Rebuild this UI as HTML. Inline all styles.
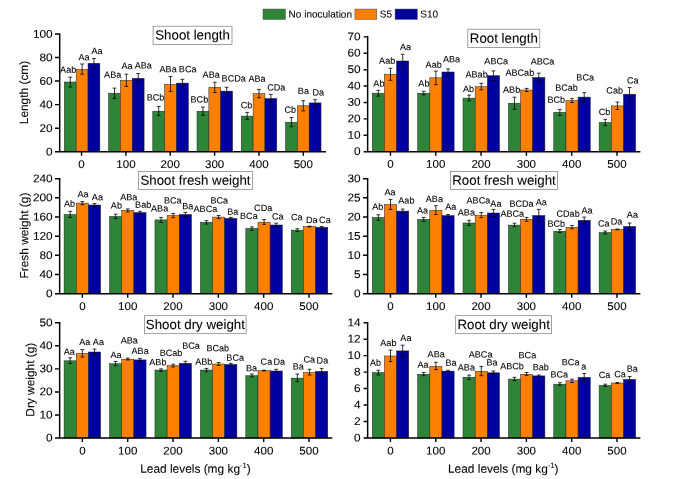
<!DOCTYPE html>
<html lang="en"><head><meta charset="utf-8"><title>Lead levels chart</title>
<style>html,body{margin:0;padding:0;background:#fff}svg{display:block}text{font-family:"Liberation Sans", Arial, sans-serif;fill:#000;stroke:#000;stroke-width:0.08px}.l{font-size:9.1px;text-anchor:middle}.t{font-size:11.2px}.tt{font-size:13.3px}.a{font-size:11.9px}.lg{font-size:10px}</style></head><body>
<svg width="685" height="479" viewBox="0 0 685 479">
<rect width="685" height="479" fill="#fff"/>
<rect x="263" y="9.05" width="22.4" height="10.35" fill="#2e8538" stroke="#444" stroke-width="0.5"/>
<text class="lg" transform="translate(288.6 17.6) rotate(0.03)">No inoculation</text>
<rect x="354.9" y="9.05" width="21.9" height="10.35" fill="#ff8000" stroke="#444" stroke-width="0.5"/>
<text class="lg" transform="translate(379.8 17.6) rotate(0.03)">S5</text>
<rect x="395.1" y="9.05" width="22.2" height="10.35" fill="#0000a0" stroke="#444" stroke-width="0.5"/>
<text class="lg" transform="translate(420.3 17.6) rotate(0.03)">S10</text>
<g>
<rect x="64.32" y="82" width="11.85" height="69.7" fill="#2e8538" stroke="#222" stroke-width="0.5"/>
<rect x="76.17" y="69.4" width="11.85" height="82.3" fill="#ff8000" stroke="#222" stroke-width="0.5"/>
<rect x="88.02" y="63.3" width="11.85" height="88.4" fill="#0000a0" stroke="#222" stroke-width="0.5"/>
<rect x="108.55" y="93.2" width="11.85" height="58.5" fill="#2e8538" stroke="#222" stroke-width="0.5"/>
<rect x="120.4" y="80.4" width="11.85" height="71.3" fill="#ff8000" stroke="#222" stroke-width="0.5"/>
<rect x="132.25" y="78.3" width="11.85" height="73.4" fill="#0000a0" stroke="#222" stroke-width="0.5"/>
<rect x="152.78" y="111.2" width="11.85" height="40.5" fill="#2e8538" stroke="#222" stroke-width="0.5"/>
<rect x="164.63" y="84.4" width="11.85" height="67.3" fill="#ff8000" stroke="#222" stroke-width="0.5"/>
<rect x="176.49" y="83.1" width="11.85" height="68.6" fill="#0000a0" stroke="#222" stroke-width="0.5"/>
<rect x="197.01" y="111.2" width="11.85" height="40.5" fill="#2e8538" stroke="#222" stroke-width="0.5"/>
<rect x="208.86" y="87.3" width="11.85" height="64.4" fill="#ff8000" stroke="#222" stroke-width="0.5"/>
<rect x="220.72" y="91.1" width="11.85" height="60.6" fill="#0000a0" stroke="#222" stroke-width="0.5"/>
<rect x="241.24" y="116.1" width="11.85" height="35.6" fill="#2e8538" stroke="#222" stroke-width="0.5"/>
<rect x="253.09" y="93.7" width="11.85" height="58" fill="#ff8000" stroke="#222" stroke-width="0.5"/>
<rect x="264.94" y="98.5" width="11.85" height="53.2" fill="#0000a0" stroke="#222" stroke-width="0.5"/>
<rect x="285.48" y="122.2" width="11.85" height="29.5" fill="#2e8538" stroke="#222" stroke-width="0.5"/>
<rect x="297.32" y="105.8" width="11.85" height="45.9" fill="#ff8000" stroke="#222" stroke-width="0.5"/>
<rect x="309.18" y="102.9" width="11.85" height="48.8" fill="#0000a0" stroke="#222" stroke-width="0.5"/>
<path d="M70.25 77.2V87M68.35 77.2H72.15M68.35 87H72.15M82.1 64V74.2M80.2 64H84M80.2 74.2H84M93.95 58.5V68.1M92.05 58.5H95.85M92.05 68.1H95.85M114.48 88.1V98.4M112.58 88.1H116.38M112.58 98.4H116.38M126.33 74.2V86.4M124.43 74.2H128.23M124.43 86.4H128.23M138.18 73.5V82.6M136.28 73.5H140.08M136.28 82.6H140.08M158.71 106.5V115.6M156.81 106.5H160.61M156.81 115.6H160.61M170.56 76.4V91.4M168.66 76.4H172.46M168.66 91.4H172.46M182.41 79.3V86.8M180.51 79.3H184.31M180.51 86.8H184.31M202.94 107.2V115.3M201.04 107.2H204.84M201.04 115.3H204.84M214.79 82.2V92.5M212.89 82.2H216.69M212.89 92.5H216.69M226.64 87.3V95.1M224.74 87.3H228.54M224.74 95.1H228.54M247.17 112.4V119.3M245.27 112.4H249.07M245.27 119.3H249.07M259.02 89.4V97.8M257.12 89.4H260.92M257.12 97.8H260.92M270.87 94.4V102.2M268.97 94.4H272.77M268.97 102.2H272.77M291.4 117.5V126.7M289.5 117.5H293.3M289.5 126.7H293.3M303.25 100.7V110.9M301.35 100.7H305.15M301.35 110.9H305.15M315.1 99.7V106.1M313.2 99.7H317M313.2 106.1H317" stroke="#050505" stroke-width="0.8" fill="none"/>
<path d="M59.7 33.27V151.7H326M59.7 151.7H55M59.7 128.16H55M59.7 104.62H55M59.7 81.08H55M59.7 57.54H55M59.7 34H55M81.56 151.7V155.7M125.91 151.7V155.7M170.26 151.7V155.7M214.61 151.7V155.7M258.96 151.7V155.7M303.31 151.7V155.7" stroke="#000" stroke-width="1.45" fill="none" stroke-linejoin="miter"/>
<text class="t" text-anchor="end" transform="translate(52.7 155.45) rotate(0.03) scale(1.06 1)">0</text>
<text class="t" text-anchor="end" transform="translate(52.7 131.91) rotate(0.03) scale(1.06 1)">20</text>
<text class="t" text-anchor="end" transform="translate(52.7 108.37) rotate(0.03) scale(1.06 1)">40</text>
<text class="t" text-anchor="end" transform="translate(52.7 84.83) rotate(0.03) scale(1.06 1)">60</text>
<text class="t" text-anchor="end" transform="translate(52.7 61.29) rotate(0.03) scale(1.06 1)">80</text>
<text class="t" text-anchor="end" transform="translate(52.7 37.75) rotate(0.03) scale(1.06 1)">100</text>
<text class="t" text-anchor="middle" transform="translate(81.56 168) rotate(0.03) scale(1.035 1)">0</text>
<text class="t" text-anchor="middle" transform="translate(125.91 168) rotate(0.03) scale(1.035 1)">100</text>
<text class="t" text-anchor="middle" transform="translate(170.26 168) rotate(0.03) scale(1.035 1)">200</text>
<text class="t" text-anchor="middle" transform="translate(214.61 168) rotate(0.03) scale(1.035 1)">300</text>
<text class="t" text-anchor="middle" transform="translate(258.96 168) rotate(0.03) scale(1.035 1)">400</text>
<text class="t" text-anchor="middle" transform="translate(303.31 168) rotate(0.03) scale(1.035 1)">500</text>
<rect x="153.1" y="26.2" width="78.9" height="18.4" fill="#fff" stroke="#7a7a7a" stroke-width="0.7"/>
<text class="tt" text-anchor="middle" transform="translate(192.55 39.5) rotate(0.03)">Shoot length</text>
<text class="l" transform="translate(68.2 72.8) rotate(0.03)">Aab</text>
<text class="l" transform="translate(84 60.3) rotate(0.03)">Aa</text>
<text class="l" transform="translate(97 54.1) rotate(0.03)">Aa</text>
<text class="l" transform="translate(112.7 77.8) rotate(0.03)">ABa</text>
<text class="l" transform="translate(127 69) rotate(0.03)">Aa</text>
<text class="l" transform="translate(143.3 68.4) rotate(0.03)">ABa</text>
<text class="l" transform="translate(155.5 100.5) rotate(0.03)">BCb</text>
<text class="l" transform="translate(168.1 72.3) rotate(0.03)">ABa</text>
<text class="l" transform="translate(187.7 72.3) rotate(0.03)">BCa</text>
<text class="l" transform="translate(199.4 102.4) rotate(0.03)">BCb</text>
<text class="l" transform="translate(211.2 77.8) rotate(0.03)">ABa</text>
<text class="l" transform="translate(233.7 81.5) rotate(0.03)">BCDa</text>
<text class="l" transform="translate(246.5 108.3) rotate(0.03)">Cb</text>
<text class="l" transform="translate(257 81.7) rotate(0.03)">ABa</text>
<text class="l" transform="translate(276.3 90.5) rotate(0.03)">CDa</text>
<text class="l" transform="translate(290.2 112.7) rotate(0.03)">Cb</text>
<text class="l" transform="translate(303.4 94) rotate(0.03)">Ba</text>
<text class="l" transform="translate(318.2 95.4) rotate(0.03)">Da</text>
<text class="a" text-anchor="middle" transform="translate(27.95 92.5) rotate(-89.97)">Length (cm)</text>
</g>
<g>
<rect x="372.25" y="93.2" width="12.17" height="58.5" fill="#2e8538" stroke="#222" stroke-width="0.5"/>
<rect x="384.42" y="74.2" width="12.17" height="77.5" fill="#ff8000" stroke="#222" stroke-width="0.5"/>
<rect x="396.58" y="61" width="12.17" height="90.7" fill="#0000a0" stroke="#222" stroke-width="0.5"/>
<rect x="417.62" y="93.2" width="12.17" height="58.5" fill="#2e8538" stroke="#222" stroke-width="0.5"/>
<rect x="429.8" y="77.8" width="12.17" height="73.9" fill="#ff8000" stroke="#222" stroke-width="0.5"/>
<rect x="441.96" y="72" width="12.17" height="79.7" fill="#0000a0" stroke="#222" stroke-width="0.5"/>
<rect x="463" y="98.1" width="12.17" height="53.6" fill="#2e8538" stroke="#222" stroke-width="0.5"/>
<rect x="475.18" y="86.7" width="12.17" height="65" fill="#ff8000" stroke="#222" stroke-width="0.5"/>
<rect x="487.34" y="75.7" width="12.17" height="76" fill="#0000a0" stroke="#222" stroke-width="0.5"/>
<rect x="508.38" y="103.2" width="12.17" height="48.5" fill="#2e8538" stroke="#222" stroke-width="0.5"/>
<rect x="520.55" y="90" width="12.17" height="61.7" fill="#ff8000" stroke="#222" stroke-width="0.5"/>
<rect x="532.73" y="77.5" width="12.17" height="74.2" fill="#0000a0" stroke="#222" stroke-width="0.5"/>
<rect x="553.76" y="112.3" width="12.17" height="39.4" fill="#2e8538" stroke="#222" stroke-width="0.5"/>
<rect x="565.93" y="100.6" width="12.17" height="51.1" fill="#ff8000" stroke="#222" stroke-width="0.5"/>
<rect x="578.11" y="97.1" width="12.17" height="54.6" fill="#0000a0" stroke="#222" stroke-width="0.5"/>
<rect x="599.14" y="122.5" width="12.17" height="29.2" fill="#2e8538" stroke="#222" stroke-width="0.5"/>
<rect x="611.31" y="105.9" width="12.17" height="45.8" fill="#ff8000" stroke="#222" stroke-width="0.5"/>
<rect x="623.49" y="94.2" width="12.17" height="57.5" fill="#0000a0" stroke="#222" stroke-width="0.5"/>
<path d="M378.33 90.3V96.1M376.43 90.3H380.23M376.43 96.1H380.23M390.5 68.3V80.3M388.6 68.3H392.4M388.6 80.3H392.4M402.67 54.3V67.5M400.77 54.3H404.57M400.77 67.5H404.57M423.71 91.3V94.9M421.81 91.3H425.61M421.81 94.9H425.61M435.88 71.1V84.7M433.98 71.1H437.78M433.98 84.7H437.78M448.05 68.9V75.5M446.15 68.9H449.95M446.15 75.5H449.95M469.09 95.1V100.8M467.19 95.1H470.99M467.19 100.8H470.99M481.26 83.3V89.9M479.36 83.3H483.16M479.36 89.9H483.16M493.43 70.9V80.4M491.53 70.9H495.33M491.53 80.4H495.33M514.47 97.2V109.3M512.57 97.2H516.37M512.57 109.3H516.37M526.64 88.4V91.5M524.74 88.4H528.54M524.74 91.5H528.54M538.81 73.2V81.5M536.91 73.2H540.71M536.91 81.5H540.71M559.85 109.4V115.4M557.95 109.4H561.75M557.95 115.4H561.75M572.02 98.6V102.5M570.12 98.6H573.92M570.12 102.5H573.92M584.19 92.6V101.8M582.29 92.6H586.09M582.29 101.8H586.09M605.23 119.3V125.7M603.33 119.3H607.13M603.33 125.7H607.13M617.4 102.1V109.5M615.5 102.1H619.3M615.5 109.5H619.3M629.57 87.5V101.5M627.67 87.5H631.47M627.67 101.5H631.47" stroke="#050505" stroke-width="0.8" fill="none"/>
<path d="M367.65 36.12V151.7H640.35M367.65 151.7H363.6M367.65 135.29H363.6M367.65 118.89H363.6M367.65 102.48H363.6M367.65 86.07H363.6M367.65 69.66H363.6M367.65 53.26H363.6M367.65 36.85H363.6M390.45 151.7V155.7M435.76 151.7V155.7M481.07 151.7V155.7M526.38 151.7V155.7M571.69 151.7V155.7M617 151.7V155.7" stroke="#000" stroke-width="1.45" fill="none" stroke-linejoin="miter"/>
<text class="t" text-anchor="end" transform="translate(360.6 155.05) rotate(0.03) scale(1.06 1)">0</text>
<text class="t" text-anchor="end" transform="translate(360.6 138.64) rotate(0.03) scale(1.06 1)">10</text>
<text class="t" text-anchor="end" transform="translate(360.6 122.24) rotate(0.03) scale(1.06 1)">20</text>
<text class="t" text-anchor="end" transform="translate(360.6 105.83) rotate(0.03) scale(1.06 1)">30</text>
<text class="t" text-anchor="end" transform="translate(360.6 89.42) rotate(0.03) scale(1.06 1)">40</text>
<text class="t" text-anchor="end" transform="translate(360.6 73.01) rotate(0.03) scale(1.06 1)">50</text>
<text class="t" text-anchor="end" transform="translate(360.6 56.61) rotate(0.03) scale(1.06 1)">60</text>
<text class="t" text-anchor="end" transform="translate(360.6 40.2) rotate(0.03) scale(1.06 1)">70</text>
<text class="t" text-anchor="middle" transform="translate(390.45 167.7) rotate(0.03) scale(1.035 1)">0</text>
<text class="t" text-anchor="middle" transform="translate(435.76 167.7) rotate(0.03) scale(1.035 1)">100</text>
<text class="t" text-anchor="middle" transform="translate(481.07 167.7) rotate(0.03) scale(1.035 1)">200</text>
<text class="t" text-anchor="middle" transform="translate(526.38 167.7) rotate(0.03) scale(1.035 1)">300</text>
<text class="t" text-anchor="middle" transform="translate(571.69 167.7) rotate(0.03) scale(1.035 1)">400</text>
<text class="t" text-anchor="middle" transform="translate(617 167.7) rotate(0.03) scale(1.035 1)">500</text>
<rect x="467.8" y="29.2" width="72" height="18.2" fill="#fff" stroke="#7a7a7a" stroke-width="0.7"/>
<text class="tt" text-anchor="middle" transform="translate(503.8 42.7) rotate(0.03)">Root length</text>
<text class="l" transform="translate(378.9 86.5) rotate(0.03)">Ab</text>
<text class="l" transform="translate(387.2 63.8) rotate(0.03)">Aab</text>
<text class="l" transform="translate(405.6 49.9) rotate(0.03)">Aa</text>
<text class="l" transform="translate(423.9 86.5) rotate(0.03)">Ab</text>
<text class="l" transform="translate(433.7 67.8) rotate(0.03)">Aab</text>
<text class="l" transform="translate(451.5 62.3) rotate(0.03)">ABa</text>
<text class="l" transform="translate(468.5 92.1) rotate(0.03)">Ab</text>
<text class="l" transform="translate(476.6 77.5) rotate(0.03)">ABab</text>
<text class="l" transform="translate(496.2 64.3) rotate(0.03)">ABCa</text>
<text class="l" transform="translate(511.6 92.8) rotate(0.03)">ABb</text>
<text class="l" transform="translate(519.8 75.7) rotate(0.03)">ABCab</text>
<text class="l" transform="translate(542.5 64.4) rotate(0.03)">ABCa</text>
<text class="l" transform="translate(556.3 102.8) rotate(0.03)">BCb</text>
<text class="l" transform="translate(566.5 90.8) rotate(0.03)">BCab</text>
<text class="l" transform="translate(585.2 80.6) rotate(0.03)">BCa</text>
<text class="l" transform="translate(604.5 114.9) rotate(0.03)">Cb</text>
<text class="l" transform="translate(614.7 93.6) rotate(0.03)">Cab</text>
<text class="l" transform="translate(632.7 83.4) rotate(0.03)">Ca</text>
</g>
<g>
<rect x="64.09" y="214.5" width="12.17" height="79.18" fill="#2e8538" stroke="#222" stroke-width="0.5"/>
<rect x="76.27" y="203.1" width="12.17" height="90.58" fill="#ff8000" stroke="#222" stroke-width="0.5"/>
<rect x="88.43" y="205" width="12.17" height="88.68" fill="#0000a0" stroke="#222" stroke-width="0.5"/>
<rect x="109.53" y="216.4" width="12.17" height="77.28" fill="#2e8538" stroke="#222" stroke-width="0.5"/>
<rect x="121.7" y="210.4" width="12.17" height="83.28" fill="#ff8000" stroke="#222" stroke-width="0.5"/>
<rect x="133.87" y="212.6" width="12.17" height="81.08" fill="#0000a0" stroke="#222" stroke-width="0.5"/>
<rect x="154.95" y="219.9" width="12.17" height="73.78" fill="#2e8538" stroke="#222" stroke-width="0.5"/>
<rect x="167.12" y="215.5" width="12.17" height="78.18" fill="#ff8000" stroke="#222" stroke-width="0.5"/>
<rect x="179.29" y="214.5" width="12.17" height="79.18" fill="#0000a0" stroke="#222" stroke-width="0.5"/>
<rect x="200.38" y="222.2" width="12.17" height="71.48" fill="#2e8538" stroke="#222" stroke-width="0.5"/>
<rect x="212.55" y="217.1" width="12.17" height="76.58" fill="#ff8000" stroke="#222" stroke-width="0.5"/>
<rect x="224.72" y="218.4" width="12.17" height="75.28" fill="#0000a0" stroke="#222" stroke-width="0.5"/>
<rect x="245.81" y="228.4" width="12.17" height="65.28" fill="#2e8538" stroke="#222" stroke-width="0.5"/>
<rect x="257.99" y="222.2" width="12.17" height="71.48" fill="#ff8000" stroke="#222" stroke-width="0.5"/>
<rect x="270.15" y="225" width="12.17" height="68.68" fill="#0000a0" stroke="#222" stroke-width="0.5"/>
<rect x="291.25" y="230.1" width="12.17" height="63.58" fill="#2e8538" stroke="#222" stroke-width="0.5"/>
<rect x="303.42" y="226.5" width="12.17" height="67.18" fill="#ff8000" stroke="#222" stroke-width="0.5"/>
<rect x="315.58" y="227.3" width="12.17" height="66.38" fill="#0000a0" stroke="#222" stroke-width="0.5"/>
<path d="M70.18 211.3V217.4M68.28 211.3H72.08M68.28 217.4H72.08M82.35 201.6V204.7M80.45 201.6H84.25M80.45 204.7H84.25M94.52 203.5V206.7M92.62 203.5H96.42M92.62 206.7H96.42M115.61 214.2V218.4M113.71 214.2H117.51M113.71 218.4H117.51M127.78 208.9V212M125.88 208.9H129.68M125.88 212H129.68M139.95 211.3V213.7M138.05 211.3H141.85M138.05 213.7H141.85M161.04 217.4V222.5M159.14 217.4H162.94M159.14 222.5H162.94M173.21 213.5V217.7M171.31 213.5H175.11M171.31 217.7H175.11M185.38 212.3V216.7M183.48 212.3H187.28M183.48 216.7H187.28M206.47 220.6V224M204.57 220.6H208.37M204.57 224H208.37M218.64 215.5V218.6M216.74 215.5H220.54M216.74 218.6H220.54M230.81 217.4V219.2M228.91 217.4H232.71M228.91 219.2H232.71M251.9 226.9V230.3M250 226.9H253.8M250 230.3H253.8M264.07 219.6V224.4M262.17 219.6H265.97M262.17 224.4H265.97M276.24 223.2V226.5M274.34 223.2H278.14M274.34 226.5H278.14M297.33 228.7V231.6M295.43 228.7H299.23M295.43 231.6H299.23M309.5 226.2V227M307.6 226.2H311.4M307.6 227H311.4M321.67 226.5V228.7M319.77 226.5H323.57M319.77 228.7H323.57" stroke="#050505" stroke-width="0.8" fill="none"/>
<path d="M59.65 177.93V293.68H332.3M59.65 293.68H55M59.65 274.51H55M59.65 255.34H55M59.65 236.16H55M59.65 216.99H55M59.65 197.82H55M59.65 178.65H55M82.35 293.68V297.68M127.68 293.68V297.68M173.01 293.68V297.68M218.34 293.68V297.68M263.67 293.68V297.68M309 293.68V297.68" stroke="#000" stroke-width="1.45" fill="none" stroke-linejoin="miter"/>
<text class="t" text-anchor="end" transform="translate(52.7 297.23) rotate(0.03) scale(1.06 1)">0</text>
<text class="t" text-anchor="end" transform="translate(52.7 278.06) rotate(0.03) scale(1.06 1)">40</text>
<text class="t" text-anchor="end" transform="translate(52.7 258.89) rotate(0.03) scale(1.06 1)">80</text>
<text class="t" text-anchor="end" transform="translate(52.7 239.71) rotate(0.03) scale(1.06 1)">120</text>
<text class="t" text-anchor="end" transform="translate(52.7 220.54) rotate(0.03) scale(1.06 1)">160</text>
<text class="t" text-anchor="end" transform="translate(52.7 201.37) rotate(0.03) scale(1.06 1)">200</text>
<text class="t" text-anchor="end" transform="translate(52.7 182.2) rotate(0.03) scale(1.06 1)">240</text>
<text class="t" text-anchor="middle" transform="translate(82.35 310.08) rotate(0.03) scale(1.035 1)">0</text>
<text class="t" text-anchor="middle" transform="translate(127.68 310.08) rotate(0.03) scale(1.035 1)">100</text>
<text class="t" text-anchor="middle" transform="translate(173.01 310.08) rotate(0.03) scale(1.035 1)">200</text>
<text class="t" text-anchor="middle" transform="translate(218.34 310.08) rotate(0.03) scale(1.035 1)">300</text>
<text class="t" text-anchor="middle" transform="translate(263.67 310.08) rotate(0.03) scale(1.035 1)">400</text>
<text class="t" text-anchor="middle" transform="translate(309 310.08) rotate(0.03) scale(1.035 1)">500</text>
<rect x="138.5" y="171.4" width="113.9" height="18" fill="#fff" stroke="#7a7a7a" stroke-width="0.7"/>
<text class="tt" text-anchor="middle" transform="translate(195.45 184.7) rotate(0.03)">Shoot fresh weight</text>
<text class="l" transform="translate(69.6 206.7) rotate(0.03)">Ab</text>
<text class="l" transform="translate(83.1 197.2) rotate(0.03)">Aa</text>
<text class="l" transform="translate(97.4 200.2) rotate(0.03)">Aa</text>
<text class="l" transform="translate(116.4 208.6) rotate(0.03)">Ab</text>
<text class="l" transform="translate(128.8 200.2) rotate(0.03)">ABa</text>
<text class="l" transform="translate(143.2 207.8) rotate(0.03)">Bab</text>
<text class="l" transform="translate(159.6 211.4) rotate(0.03)">ABa</text>
<text class="l" transform="translate(172.8 203.5) rotate(0.03)">BCa</text>
<text class="l" transform="translate(187.7 209.2) rotate(0.03)">Ba</text>
<text class="l" transform="translate(205.4 212.1) rotate(0.03)">ABCa</text>
<text class="l" transform="translate(219.3 203.5) rotate(0.03)">BCa</text>
<text class="l" transform="translate(232.7 214.8) rotate(0.03)">Ba</text>
<text class="l" transform="translate(248.9 218.9) rotate(0.03)">BCa</text>
<text class="l" transform="translate(263.2 211.1) rotate(0.03)">CDa</text>
<text class="l" transform="translate(277.7 219.6) rotate(0.03)">Ca</text>
<text class="l" transform="translate(296.8 220.3) rotate(0.03)">Ca</text>
<text class="l" transform="translate(311.8 223.1) rotate(0.03)">Da</text>
<text class="l" transform="translate(324.9 223.1) rotate(0.03)">Ca</text>
<text class="a" text-anchor="middle" transform="translate(28.2 235.6) rotate(-89.97)">Fresh weight (g)</text>
</g>
<g>
<rect x="372.25" y="217.4" width="12.17" height="76.28" fill="#2e8538" stroke="#222" stroke-width="0.5"/>
<rect x="384.42" y="204.5" width="12.17" height="89.18" fill="#ff8000" stroke="#222" stroke-width="0.5"/>
<rect x="396.58" y="211.1" width="12.17" height="82.58" fill="#0000a0" stroke="#222" stroke-width="0.5"/>
<rect x="417.62" y="219.3" width="12.17" height="74.38" fill="#2e8538" stroke="#222" stroke-width="0.5"/>
<rect x="429.8" y="210.4" width="12.17" height="83.28" fill="#ff8000" stroke="#222" stroke-width="0.5"/>
<rect x="441.96" y="215.6" width="12.17" height="78.08" fill="#0000a0" stroke="#222" stroke-width="0.5"/>
<rect x="463" y="223" width="12.17" height="70.68" fill="#2e8538" stroke="#222" stroke-width="0.5"/>
<rect x="475.18" y="215.5" width="12.17" height="78.18" fill="#ff8000" stroke="#222" stroke-width="0.5"/>
<rect x="487.34" y="213" width="12.17" height="80.68" fill="#0000a0" stroke="#222" stroke-width="0.5"/>
<rect x="508.38" y="225.1" width="12.17" height="68.58" fill="#2e8538" stroke="#222" stroke-width="0.5"/>
<rect x="520.55" y="219.3" width="12.17" height="74.38" fill="#ff8000" stroke="#222" stroke-width="0.5"/>
<rect x="532.73" y="215.5" width="12.17" height="78.18" fill="#0000a0" stroke="#222" stroke-width="0.5"/>
<rect x="553.76" y="231.3" width="12.17" height="62.38" fill="#2e8538" stroke="#222" stroke-width="0.5"/>
<rect x="565.93" y="227.3" width="12.17" height="66.38" fill="#ff8000" stroke="#222" stroke-width="0.5"/>
<rect x="578.11" y="220.3" width="12.17" height="73.38" fill="#0000a0" stroke="#222" stroke-width="0.5"/>
<rect x="599.14" y="232.5" width="12.17" height="61.18" fill="#2e8538" stroke="#222" stroke-width="0.5"/>
<rect x="611.31" y="229.4" width="12.17" height="64.28" fill="#ff8000" stroke="#222" stroke-width="0.5"/>
<rect x="623.49" y="226.5" width="12.17" height="67.18" fill="#0000a0" stroke="#222" stroke-width="0.5"/>
<path d="M378.33 214.8V220.3M376.43 214.8H380.23M376.43 220.3H380.23M390.5 199.4V209.4M388.6 199.4H392.4M388.6 209.4H392.4M402.67 209.1V212.7M400.77 209.1H404.57M400.77 212.7H404.57M423.71 217.4V221.3M421.81 217.4H425.61M421.81 221.3H425.61M435.88 205.7V214.5M433.98 205.7H437.78M433.98 214.5H437.78M448.05 214.5V216.7M446.15 214.5H449.95M446.15 216.7H449.95M469.09 220.3V225.4M467.19 220.3H470.99M467.19 225.4H470.99M481.26 212.6V217.7M479.36 212.6H483.16M479.36 217.7H483.16M493.43 209.4V216.4M491.53 209.4H495.33M491.53 216.4H495.33M514.47 223.2V226.6M512.57 223.2H516.37M512.57 226.6H516.37M526.64 217.4V221.3M524.74 217.4H528.54M524.74 221.3H528.54M538.81 209.4V221.8M536.91 209.4H540.71M536.91 221.8H540.71M559.85 229.4V232.5M557.95 229.4H561.75M557.95 232.5H561.75M572.02 225.4V228.7M570.12 225.4H573.92M570.12 228.7H573.92M584.19 217.1V223.5M582.29 217.1H586.09M582.29 223.5H586.09M605.23 231V233.9M603.33 231H607.13M603.33 233.9H607.13M617.4 229V229.8M615.5 229H619.3M615.5 229.8H619.3M629.57 223V230.3M627.67 223H631.47M627.67 230.3H631.47" stroke="#050505" stroke-width="0.8" fill="none"/>
<path d="M367.65 177.93V293.68H640.35M367.65 293.68H363M367.65 274.51H363M367.65 255.34H363M367.65 236.17H363M367.65 217H363M367.65 197.83H363M367.65 178.66H363M390.45 293.68V297.68M435.76 293.68V297.68M481.07 293.68V297.68M526.38 293.68V297.68M571.69 293.68V297.68M617 293.68V297.68" stroke="#000" stroke-width="1.45" fill="none" stroke-linejoin="miter"/>
<text class="t" text-anchor="end" transform="translate(360.6 297.23) rotate(0.03) scale(1.06 1)">0</text>
<text class="t" text-anchor="end" transform="translate(360.6 278.06) rotate(0.03) scale(1.06 1)">5</text>
<text class="t" text-anchor="end" transform="translate(360.6 258.89) rotate(0.03) scale(1.06 1)">10</text>
<text class="t" text-anchor="end" transform="translate(360.6 239.72) rotate(0.03) scale(1.06 1)">15</text>
<text class="t" text-anchor="end" transform="translate(360.6 220.55) rotate(0.03) scale(1.06 1)">20</text>
<text class="t" text-anchor="end" transform="translate(360.6 201.38) rotate(0.03) scale(1.06 1)">25</text>
<text class="t" text-anchor="end" transform="translate(360.6 182.21) rotate(0.03) scale(1.06 1)">30</text>
<text class="t" text-anchor="middle" transform="translate(390.45 310.08) rotate(0.03) scale(1.035 1)">0</text>
<text class="t" text-anchor="middle" transform="translate(435.76 310.08) rotate(0.03) scale(1.035 1)">100</text>
<text class="t" text-anchor="middle" transform="translate(481.07 310.08) rotate(0.03) scale(1.035 1)">200</text>
<text class="t" text-anchor="middle" transform="translate(526.38 310.08) rotate(0.03) scale(1.035 1)">300</text>
<text class="t" text-anchor="middle" transform="translate(571.69 310.08) rotate(0.03) scale(1.035 1)">400</text>
<text class="t" text-anchor="middle" transform="translate(617 310.08) rotate(0.03) scale(1.035 1)">500</text>
<rect x="450.4" y="171.4" width="107.2" height="18" fill="#fff" stroke="#7a7a7a" stroke-width="0.7"/>
<text class="tt" text-anchor="middle" transform="translate(504 184.7) rotate(0.03)">Root fresh weight</text>
<text class="l" transform="translate(377.7 209.7) rotate(0.03)">Ab</text>
<text class="l" transform="translate(390.1 195.3) rotate(0.03)">Aa</text>
<text class="l" transform="translate(406.4 203.5) rotate(0.03)">Aab</text>
<text class="l" transform="translate(422.5 213.6) rotate(0.03)">Aa</text>
<text class="l" transform="translate(434.4 202.1) rotate(0.03)">ABa</text>
<text class="l" transform="translate(450.8 209.7) rotate(0.03)">Aa</text>
<text class="l" transform="translate(466.4 215.5) rotate(0.03)">ABa</text>
<text class="l" transform="translate(478.4 203.4) rotate(0.03)">ABCa</text>
<text class="l" transform="translate(495.9 206.7) rotate(0.03)">Aa</text>
<text class="l" transform="translate(512.3 216.7) rotate(0.03)">ABCa</text>
<text class="l" transform="translate(521.5 206.7) rotate(0.03)">BCDa</text>
<text class="l" transform="translate(541.3 205.3) rotate(0.03)">Aa</text>
<text class="l" transform="translate(556.3 226.8) rotate(0.03)">BCb</text>
<text class="l" transform="translate(568.1 216.7) rotate(0.03)">CDab</text>
<text class="l" transform="translate(587.1 213.6) rotate(0.03)">Aa</text>
<text class="l" transform="translate(603.8 226.5) rotate(0.03)">Ca</text>
<text class="l" transform="translate(616.6 224.6) rotate(0.03)">Da</text>
<text class="l" transform="translate(632.4 217.7) rotate(0.03)">Aa</text>
</g>
<g>
<rect x="64.09" y="360.8" width="12.17" height="77.2" fill="#2e8538" stroke="#222" stroke-width="0.5"/>
<rect x="76.27" y="353.5" width="12.17" height="84.5" fill="#ff8000" stroke="#222" stroke-width="0.5"/>
<rect x="88.43" y="352" width="12.17" height="86" fill="#0000a0" stroke="#222" stroke-width="0.5"/>
<rect x="109.53" y="363.7" width="12.17" height="74.3" fill="#2e8538" stroke="#222" stroke-width="0.5"/>
<rect x="121.7" y="359.2" width="12.17" height="78.8" fill="#ff8000" stroke="#222" stroke-width="0.5"/>
<rect x="133.87" y="359.9" width="12.17" height="78.1" fill="#0000a0" stroke="#222" stroke-width="0.5"/>
<rect x="154.95" y="370" width="12.17" height="68" fill="#2e8538" stroke="#222" stroke-width="0.5"/>
<rect x="167.12" y="365.6" width="12.17" height="72.4" fill="#ff8000" stroke="#222" stroke-width="0.5"/>
<rect x="179.29" y="363.3" width="12.17" height="74.7" fill="#0000a0" stroke="#222" stroke-width="0.5"/>
<rect x="200.38" y="370" width="12.17" height="68" fill="#2e8538" stroke="#222" stroke-width="0.5"/>
<rect x="212.55" y="364" width="12.17" height="74" fill="#ff8000" stroke="#222" stroke-width="0.5"/>
<rect x="224.72" y="364.5" width="12.17" height="73.5" fill="#0000a0" stroke="#222" stroke-width="0.5"/>
<rect x="245.81" y="375.7" width="12.17" height="62.3" fill="#2e8538" stroke="#222" stroke-width="0.5"/>
<rect x="257.99" y="370.6" width="12.17" height="67.4" fill="#ff8000" stroke="#222" stroke-width="0.5"/>
<rect x="270.15" y="371" width="12.17" height="67" fill="#0000a0" stroke="#222" stroke-width="0.5"/>
<rect x="291.25" y="378.1" width="12.17" height="59.9" fill="#2e8538" stroke="#222" stroke-width="0.5"/>
<rect x="303.42" y="372.5" width="12.17" height="65.5" fill="#ff8000" stroke="#222" stroke-width="0.5"/>
<rect x="315.58" y="371.3" width="12.17" height="66.7" fill="#0000a0" stroke="#222" stroke-width="0.5"/>
<path d="M70.18 357.8V363.5M68.28 357.8H72.08M68.28 363.5H72.08M82.35 349.6V357M80.45 349.6H84.25M80.45 357H84.25M94.52 349.1V354.5M92.62 349.1H96.42M92.62 354.5H96.42M115.61 361.5V365.7M113.71 361.5H117.51M113.71 365.7H117.51M127.78 358.1V360M125.88 358.1H129.68M125.88 360H129.68M139.95 358.4V361.1M138.05 358.4H141.85M138.05 361.1H141.85M161.04 368.9V371.5M159.14 368.9H162.94M159.14 371.5H162.94M173.21 364.2V367M171.31 364.2H175.11M171.31 367H175.11M185.38 361.3V364.5M183.48 361.3H187.28M183.48 364.5H187.28M206.47 368.4V371.8M204.57 368.4H208.37M204.57 371.8H208.37M218.64 362.6V365.5M216.74 362.6H220.54M216.74 365.5H220.54M230.81 363.3V365.9M228.91 363.3H232.71M228.91 365.9H232.71M251.9 374V376.9M250 374H253.8M250 376.9H253.8M264.07 370.2V371M262.17 370.2H265.97M262.17 371H265.97M276.24 369.3V372.2M274.34 369.3H278.14M274.34 372.2H278.14M297.33 374V381.7M295.43 374H299.23M295.43 381.7H299.23M309.5 369.3V375M307.6 369.3H311.4M307.6 375H311.4M321.67 368.4V374.3M319.77 368.4H323.57M319.77 374.3H323.57" stroke="#050505" stroke-width="0.8" fill="none"/>
<path d="M59.65 322.07V438H332.3M59.65 438H55M59.65 414.96H55M59.65 391.92H55M59.65 368.88H55M59.65 345.84H55M59.65 322.8H55M82.35 438V442M127.68 438V442M173.01 438V442M218.34 438V442M263.67 438V442M309 438V442" stroke="#000" stroke-width="1.45" fill="none" stroke-linejoin="miter"/>
<text class="t" text-anchor="end" transform="translate(52.7 441.45) rotate(0.03) scale(1.06 1)">0</text>
<text class="t" text-anchor="end" transform="translate(52.7 418.41) rotate(0.03) scale(1.06 1)">10</text>
<text class="t" text-anchor="end" transform="translate(52.7 395.37) rotate(0.03) scale(1.06 1)">20</text>
<text class="t" text-anchor="end" transform="translate(52.7 372.33) rotate(0.03) scale(1.06 1)">30</text>
<text class="t" text-anchor="end" transform="translate(52.7 349.29) rotate(0.03) scale(1.06 1)">40</text>
<text class="t" text-anchor="end" transform="translate(52.7 326.25) rotate(0.03) scale(1.06 1)">50</text>
<text class="t" text-anchor="middle" transform="translate(82.35 454.4) rotate(0.03) scale(1.035 1)">0</text>
<text class="t" text-anchor="middle" transform="translate(127.68 454.4) rotate(0.03) scale(1.035 1)">100</text>
<text class="t" text-anchor="middle" transform="translate(173.01 454.4) rotate(0.03) scale(1.035 1)">200</text>
<text class="t" text-anchor="middle" transform="translate(218.34 454.4) rotate(0.03) scale(1.035 1)">300</text>
<text class="t" text-anchor="middle" transform="translate(263.67 454.4) rotate(0.03) scale(1.035 1)">400</text>
<text class="t" text-anchor="middle" transform="translate(309 454.4) rotate(0.03) scale(1.035 1)">500</text>
<rect x="144.6" y="315.7" width="101.5" height="18" fill="#fff" stroke="#7a7a7a" stroke-width="0.7"/>
<text class="tt" text-anchor="middle" transform="translate(195.35 329) rotate(0.03)">Shoot dry weight</text>
<text class="l" transform="translate(69.2 354.8) rotate(0.03)">Aa</text>
<text class="l" transform="translate(84.7 345) rotate(0.03)">Aa</text>
<text class="l" transform="translate(98.4 345) rotate(0.03)">Aa</text>
<text class="l" transform="translate(116 358) rotate(0.03)">Aa</text>
<text class="l" transform="translate(129.3 343.4) rotate(0.03)">ABa</text>
<text class="l" transform="translate(140.1 354) rotate(0.03)">ABa</text>
<text class="l" transform="translate(157.9 365.2) rotate(0.03)">ABb</text>
<text class="l" transform="translate(171 356) rotate(0.03)">BCab</text>
<text class="l" transform="translate(191 348.7) rotate(0.03)">BCa</text>
<text class="l" transform="translate(203.8 364.8) rotate(0.03)">ABb</text>
<text class="l" transform="translate(217.8 351.3) rotate(0.03)">BCab</text>
<text class="l" transform="translate(235.2 360.8) rotate(0.03)">BCa</text>
<text class="l" transform="translate(251.5 371.3) rotate(0.03)">Ba</text>
<text class="l" transform="translate(266.4 364.8) rotate(0.03)">Ca</text>
<text class="l" transform="translate(279.2 364.8) rotate(0.03)">Da</text>
<text class="l" transform="translate(298.3 369.6) rotate(0.03)">Ba</text>
<text class="l" transform="translate(309.3 362.6) rotate(0.03)">Ca</text>
<text class="l" transform="translate(322.4 363.6) rotate(0.03)">Da</text>
<text class="a" text-anchor="middle" transform="translate(34.2 379.7) rotate(-89.97)">Dry weight (g)</text>
<text class="a" transform="translate(140.2 472.8) rotate(0.03)">Lead levels (mg kg<tspan dy="-4.8" font-size="7.6">-1</tspan><tspan dy="4.8">)</tspan></text>
</g>
<g>
<rect x="372.25" y="372.5" width="12.17" height="65.5" fill="#2e8538" stroke="#222" stroke-width="0.5"/>
<rect x="384.42" y="356" width="12.17" height="82" fill="#ff8000" stroke="#222" stroke-width="0.5"/>
<rect x="396.58" y="350.9" width="12.17" height="87.1" fill="#0000a0" stroke="#222" stroke-width="0.5"/>
<rect x="417.62" y="374.3" width="12.17" height="63.7" fill="#2e8538" stroke="#222" stroke-width="0.5"/>
<rect x="429.8" y="366.4" width="12.17" height="71.6" fill="#ff8000" stroke="#222" stroke-width="0.5"/>
<rect x="441.96" y="371.1" width="12.17" height="66.9" fill="#0000a0" stroke="#222" stroke-width="0.5"/>
<rect x="463" y="377.2" width="12.17" height="60.8" fill="#2e8538" stroke="#222" stroke-width="0.5"/>
<rect x="475.18" y="371.3" width="12.17" height="66.7" fill="#ff8000" stroke="#222" stroke-width="0.5"/>
<rect x="487.34" y="372.8" width="12.17" height="65.2" fill="#0000a0" stroke="#222" stroke-width="0.5"/>
<rect x="508.38" y="379.1" width="12.17" height="58.9" fill="#2e8538" stroke="#222" stroke-width="0.5"/>
<rect x="520.55" y="374.3" width="12.17" height="63.7" fill="#ff8000" stroke="#222" stroke-width="0.5"/>
<rect x="532.73" y="375.9" width="12.17" height="62.1" fill="#0000a0" stroke="#222" stroke-width="0.5"/>
<rect x="553.76" y="384.2" width="12.17" height="53.8" fill="#2e8538" stroke="#222" stroke-width="0.5"/>
<rect x="565.93" y="380.8" width="12.17" height="57.2" fill="#ff8000" stroke="#222" stroke-width="0.5"/>
<rect x="578.11" y="377.3" width="12.17" height="60.7" fill="#0000a0" stroke="#222" stroke-width="0.5"/>
<rect x="599.14" y="385.4" width="12.17" height="52.6" fill="#2e8538" stroke="#222" stroke-width="0.5"/>
<rect x="611.31" y="383" width="12.17" height="55" fill="#ff8000" stroke="#222" stroke-width="0.5"/>
<rect x="623.49" y="379.4" width="12.17" height="58.6" fill="#0000a0" stroke="#222" stroke-width="0.5"/>
<path d="M378.33 370.3V375M376.43 370.3H380.23M376.43 375H380.23M390.5 350.1V361.5M388.6 350.1H392.4M388.6 361.5H392.4M402.67 345.2V356.4M400.77 345.2H404.57M400.77 356.4H404.57M423.71 372.5V375.7M421.81 372.5H425.61M421.81 375.7H425.61M435.88 362.3V369.6M433.98 362.3H437.78M433.98 369.6H437.78M448.05 370.3V371.8M446.15 370.3H449.95M446.15 371.8H449.95M469.09 375.1V379.4M467.19 375.1H470.99M467.19 379.4H470.99M481.26 366.4V375.7M479.36 366.4H483.16M479.36 375.7H483.16M493.43 371V374.3M491.53 371H495.33M491.53 374.3H495.33M514.47 377.3V380.6M512.57 377.3H516.37M512.57 380.6H516.37M526.64 372.5V375.4M524.74 372.5H528.54M524.74 375.4H528.54M538.81 375V376.9M536.91 375H540.71M536.91 376.9H540.71M559.85 382.7V385.4M557.95 382.7H561.75M557.95 385.4H561.75M572.02 379.1V382.5M570.12 379.1H573.92M570.12 382.5H573.92M584.19 373.5V381.3M582.29 373.5H586.09M582.29 381.3H586.09M605.23 384.2V386.4M603.33 384.2H607.13M603.33 386.4H607.13M617.4 382.6V383.4M615.5 382.6H619.3M615.5 383.4H619.3M629.57 376.5V382.5M627.67 376.5H631.47M627.67 382.5H631.47" stroke="#050505" stroke-width="0.8" fill="none"/>
<path d="M367.65 321.97V438H640.35M367.65 438H363.6M367.65 421.53H363.6M367.65 405.06H363.6M367.65 388.58H363.6M367.65 372.11H363.6M367.65 355.64H363.6M367.65 339.17H363.6M367.65 322.7H363.6M390.45 438V442M435.76 438V442M481.07 438V442M526.38 438V442M571.69 438V442M617 438V442" stroke="#000" stroke-width="1.45" fill="none" stroke-linejoin="miter"/>
<text class="t" text-anchor="end" transform="translate(360.6 441.45) rotate(0.03) scale(1.06 1)">0</text>
<text class="t" text-anchor="end" transform="translate(360.6 424.98) rotate(0.03) scale(1.06 1)">2</text>
<text class="t" text-anchor="end" transform="translate(360.6 408.51) rotate(0.03) scale(1.06 1)">4</text>
<text class="t" text-anchor="end" transform="translate(360.6 392.03) rotate(0.03) scale(1.06 1)">6</text>
<text class="t" text-anchor="end" transform="translate(360.6 375.56) rotate(0.03) scale(1.06 1)">8</text>
<text class="t" text-anchor="end" transform="translate(360.6 359.09) rotate(0.03) scale(1.06 1)">10</text>
<text class="t" text-anchor="end" transform="translate(360.6 342.62) rotate(0.03) scale(1.06 1)">12</text>
<text class="t" text-anchor="end" transform="translate(360.6 326.15) rotate(0.03) scale(1.06 1)">14</text>
<text class="t" text-anchor="middle" transform="translate(390.45 454.4) rotate(0.03) scale(1.035 1)">0</text>
<text class="t" text-anchor="middle" transform="translate(435.76 454.4) rotate(0.03) scale(1.035 1)">100</text>
<text class="t" text-anchor="middle" transform="translate(481.07 454.4) rotate(0.03) scale(1.035 1)">200</text>
<text class="t" text-anchor="middle" transform="translate(526.38 454.4) rotate(0.03) scale(1.035 1)">300</text>
<text class="t" text-anchor="middle" transform="translate(571.69 454.4) rotate(0.03) scale(1.035 1)">400</text>
<text class="t" text-anchor="middle" transform="translate(617 454.4) rotate(0.03) scale(1.035 1)">500</text>
<rect x="455.7" y="315.7" width="95.9" height="18" fill="#fff" stroke="#7a7a7a" stroke-width="0.7"/>
<text class="tt" text-anchor="middle" transform="translate(503.65 329) rotate(0.03)">Root dry weight</text>
<text class="l" transform="translate(375.5 365.8) rotate(0.03)">Ab</text>
<text class="l" transform="translate(388.4 346.1) rotate(0.03)">Aab</text>
<text class="l" transform="translate(405.9 340.9) rotate(0.03)">Aa</text>
<text class="l" transform="translate(423 367.7) rotate(0.03)">Aa</text>
<text class="l" transform="translate(436.2 357.2) rotate(0.03)">ABa</text>
<text class="l" transform="translate(451 365.8) rotate(0.03)">Ba</text>
<text class="l" transform="translate(466.4 370.6) rotate(0.03)">ABa</text>
<text class="l" transform="translate(480.6 357.5) rotate(0.03)">ABCa</text>
<text class="l" transform="translate(492 365.5) rotate(0.03)">Ba</text>
<text class="l" transform="translate(512 369.2) rotate(0.03)">ABCb</text>
<text class="l" transform="translate(527.4 358.2) rotate(0.03)">BCa</text>
<text class="l" transform="translate(540.8 370.3) rotate(0.03)">Bab</text>
<text class="l" transform="translate(559.3 377.5) rotate(0.03)">BCa</text>
<text class="l" transform="translate(570.6 365.2) rotate(0.03)">BCa</text>
<text class="l" transform="translate(583.7 369.6) rotate(0.03)">a</text>
<text class="l" transform="translate(604.6 377.9) rotate(0.03)">Ca</text>
<text class="l" transform="translate(620 377.2) rotate(0.03)">Ca</text>
<text class="l" transform="translate(632.3 371.8) rotate(0.03)">Ba</text>
<text class="a" transform="translate(448 472.8) rotate(0.03)">Lead levels (mg kg<tspan dy="-4.8" font-size="7.6">-1</tspan><tspan dy="4.8">)</tspan></text>
</g>
</svg></body></html>
